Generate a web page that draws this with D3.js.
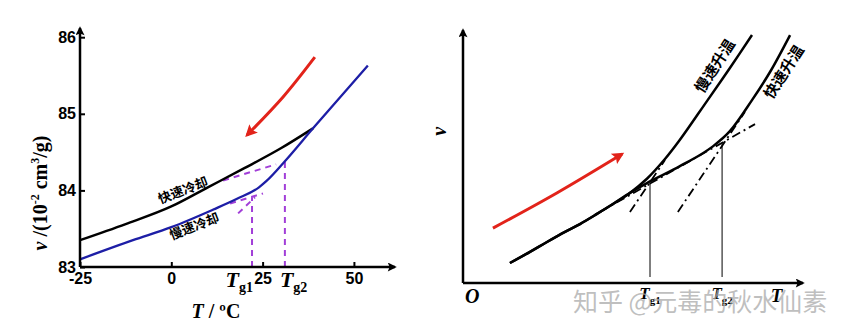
<!DOCTYPE html>
<html>
<head>
<meta charset="utf-8">
<script src="https://cdn.jsdelivr.net/npm/d3@7"></script>
<style>
body { margin: 0; background: #fff; }
svg { display: block; }
.tick text { font-family: Arial, "Liberation Sans", sans-serif; font-weight: bold; font-size: 16px; }
.serif { font-family: "Times New Roman", "Liberation Serif", serif; font-weight: bold; }
.cjk { font-family: "Noto Sans CJK SC", sans-serif; font-weight: bold; }
</style>
</head>
<body>
<svg id="viz" width="854" height="336"></svg>
<script>
// left panel: cooling curves, T (degC) vs v (1e-2 cm3/g)
var fastCool = [[-25, 83.35], [-12.5, 83.56], [0, 83.79], [10, 84.04], [20, 84.29], [30, 84.55], [38.8, 84.81]];
var slowCool = [[-25, 83.10], [-10.5, 83.35], [0, 83.52], [11.5, 83.75], [18, 83.89], [24, 84.04], [26, 84.12], [31.1, 84.38], [38.8, 84.81], [53.8, 85.63]];
var coolTicksX = [-25, 0, 25, 50];
var coolTicksY = [83, 84, 85, 86];
var coolTg = [{name: 'g1', T: 22.1, v: 83.91}, {name: 'g2', T: 31.1, v: 84.37}];
var coolDashes = [
    [[14.2, 84.13], [28.7, 84.34]],
    [[16.1, 83.83], [25.1, 83.96]],
    [[18.3, 83.70], [22.9, 83.91]]
];
var coolArrow = [[39.3, 85.74], [30.6, 85.22], [20.7, 84.72]];
var coolLabels = [{text: '快速冷却', T: 3.2, v: 84.0}, {text: '慢速冷却', T: 6.3, v: 83.53}];

// right panel: heating curves, arbitrary units
var heatCommon = [[1.38, 0.79], [1.97, 1.23], [2.47, 1.62], [3.00, 2.02], [3.44, 2.33], [3.94, 2.73], [4.41, 3.12], [4.91, 3.56]];
var slowHeat = [[5.41, 4.12], [5.94, 4.90], [6.38, 5.66], [7.18, 7.20], [7.85, 8.50], [8.50, 9.80]];
var fastHeat = [[5.41, 3.95], [5.94, 4.31], [6.38, 4.62], [6.97, 5.06], [7.35, 5.40], [7.85, 6.00], [8.50, 7.23], [9.03, 8.34], [9.62, 9.80]];
var heatTg = [{name: 'g1', x: 5.50, y: 3.95}, {name: 'g2', x: 7.62, y: 5.53}];
var heatDashDot = [
    [[4.03, 2.81], [8.59, 6.28]],
    [[4.91, 2.81], [5.94, 4.86]],
    [[6.32, 2.81], [8.29, 6.76]]
];
var heatArrow = [[0.88, 2.17], [2.76, 3.56], [4.68, 5.10]];
var heatLabels = [{text: '慢速升温', x: 7.41, y: 8.58}, {text: '快速升温', x: 9.44, y: 8.34}];

var svg = d3.select('#viz');

var defs = svg.append('defs');
function marker(id, color, w, h) {
    defs.append('marker')
        .attr('id', id)
        .attr('viewBox', '0 0 10 10')
        .attr('refX', 8).attr('refY', 5)
        .attr('markerUnits', 'userSpaceOnUse')
        .attr('markerWidth', w).attr('markerHeight', h)
        .attr('orient', 'auto')
        .append('path')
        .attr('d', 'M0,0 L10,5 L0,10 L2,5 Z')
        .attr('fill', color);
}
marker('axisArrow', '#000', 11, 9);
marker('redArrow', '#e2231a', 14, 12);

// ---------- left panel ----------
var xL = d3.scaleLinear().domain([-25, 61.25]).range([80, 395]);
var yL = d3.scaleLinear().domain([83, 86.12]).range([267, 28]);

var left = svg.append('g');

var lineL = d3.line()
    .x(function (d) { return xL(d[0]); })
    .y(function (d) { return yL(d[1]); })
    .curve(d3.curveMonotoneX);

// purple construction lines
left.selectAll('line.tg')
    .data(coolTg)
    .enter()
    .append('line')
    .attr('class', 'tg')
    .attr('x1', function (d) { return xL(d.T); })
    .attr('x2', function (d) { return xL(d.T); })
    .attr('y1', yL(83))
    .attr('y2', function (d) { return yL(d.v); })
    .attr('stroke', '#a23fd8')
    .attr('stroke-width', 2)
    .attr('stroke-dasharray', '6,5');

left.selectAll('path.ext')
    .data(coolDashes)
    .enter()
    .append('path')
    .attr('class', 'ext')
    .attr('d', d3.line().x(function (d) { return xL(d[0]); }).y(function (d) { return yL(d[1]); }))
    .attr('fill', 'none')
    .attr('stroke', '#a23fd8')
    .attr('stroke-width', 2)
    .attr('stroke-dasharray', '6,5');

left.append('path')
    .datum(fastCool)
    .attr('d', lineL)
    .attr('fill', 'none')
    .attr('stroke', '#000')
    .attr('stroke-width', 2.5);

left.append('path')
    .datum(slowCool)
    .attr('d', lineL)
    .attr('fill', 'none')
    .attr('stroke', '#1d1ea6')
    .attr('stroke-width', 2.3);

left.append('path')
    .datum(coolArrow)
    .attr('d', d3.line().x(function (d) { return xL(d[0]); }).y(function (d) { return yL(d[1]); }).curve(d3.curveNatural))
    .attr('fill', 'none')
    .attr('stroke', '#e2231a')
    .attr('stroke-width', 3)
    .attr('marker-end', 'url(#redArrow)');

// axes
var plain = function (d) { return String(d); };

var axL = left.append('g')
    .attr('transform', 'translate(0,' + yL(83) + ')')
    .call(d3.axisBottom(xL).tickValues(coolTicksX).tickFormat(plain).tickSizeInner(-5).tickSizeOuter(0).tickPadding(6));
axL.select('.domain').remove();
axL.selectAll('.tick line').attr('stroke-width', 2);

var ayL = left.append('g')
    .attr('transform', 'translate(' + xL(-25) + ',0)')
    .call(d3.axisLeft(yL).tickValues(coolTicksY).tickFormat(plain).tickSizeInner(-5).tickSizeOuter(0).tickPadding(4));
ayL.select('.domain').remove();
ayL.selectAll('.tick line').attr('stroke-width', 2);

left.append('line')
    .attr('x1', xL(-25)).attr('y1', yL(83))
    .attr('x2', xL(61.25)).attr('y2', yL(83))
    .attr('stroke', '#000').attr('stroke-width', 2.5)
    .attr('marker-end', 'url(#axisArrow)');
left.append('line')
    .attr('x1', xL(-25)).attr('y1', yL(83))
    .attr('x2', xL(-25)).attr('y2', yL(86.12))
    .attr('stroke', '#000').attr('stroke-width', 2.5)
    .attr('marker-end', 'url(#axisArrow)');

// Tg labels
var tgL = left.selectAll('text.tglabel')
    .data(coolTg)
    .enter()
    .append('text')
    .attr('class', 'tglabel serif')
    .attr('x', function (d, i) { return i === 0 ? xL(d.T) + 1 : xL(d.T) - 5; })
    .attr('y', yL(83) + 20)
    .attr('text-anchor', function (d, i) { return i === 0 ? 'end' : 'start'; })
    .style('font-size', '22px');
tgL.append('tspan').style('font-style', 'italic').text('T');
tgL.append('tspan').attr('dy', 5).style('font-size', '14px').text(function (d) { return d.name; });

left.selectAll('text.curvelabel')
    .data(coolLabels)
    .enter()
    .append('text')
    .attr('class', 'cjk')
    .attr('text-anchor', 'middle')
    .attr('transform', function (d) { return 'translate(' + xL(d.T) + ',' + yL(d.v) + ') rotate(-21)'; })
    .attr('dy', '0.35em')
    .style('font-size', '13px')
    .text(function (d) { return d.text; });

var xt = left.append('text')
    .attr('class', 'serif')
    .attr('x', 216).attr('y', 318)
    .attr('text-anchor', 'middle')
    .style('font-size', '20px');
xt.append('tspan').style('font-style', 'italic').text('T');
xt.append('tspan').text(' / ºC');

var yt = left.append('text')
    .attr('class', 'serif')
    .attr('transform', 'translate(47,193) rotate(-90)')
    .attr('text-anchor', 'middle')
    .style('font-size', '20px');
yt.append('tspan').style('font-style', 'italic').text('v');
yt.append('tspan').text(' /(10');
yt.append('tspan').attr('dy', -8).style('font-size', '12px').text('-2');
yt.append('tspan').attr('dy', 8).text(' cm');
yt.append('tspan').attr('dy', -8).style('font-size', '12px').text('3');
yt.append('tspan').attr('dy', 8).text('/g)');

// ---------- right panel ----------
var xR = d3.scaleLinear().domain([0, 10]).range([463, 803]);
var yR = d3.scaleLinear().domain([0, 10]).range([283, 30]);

var right = svg.append('g');

var lineR = d3.line()
    .x(function (d) { return xR(d[0]); })
    .y(function (d) { return yR(d[1]); })
    .curve(d3.curveCatmullRom.alpha(0.5));

right.selectAll('path.dd')
    .data(heatDashDot)
    .enter()
    .append('path')
    .attr('class', 'dd')
    .attr('d', d3.line().x(function (d) { return xR(d[0]); }).y(function (d) { return yR(d[1]); }))
    .attr('fill', 'none')
    .attr('stroke', '#000')
    .attr('stroke-width', 1.8)
    .attr('stroke-dasharray', '9,4,2,4');

right.selectAll('line.tg')
    .data(heatTg)
    .enter()
    .append('line')
    .attr('x1', function (d) { return xR(d.x); })
    .attr('x2', function (d) { return xR(d.x); })
    .attr('y1', yR(0) - 6)
    .attr('y2', function (d) { return yR(d.y); })
    .attr('stroke', '#000')
    .attr('stroke-width', 1);

right.append('path')
    .datum(heatCommon.concat(slowHeat))
    .attr('d', lineR)
    .attr('fill', 'none')
    .attr('stroke', '#000')
    .attr('stroke-width', 2.5);

right.append('path')
    .datum(heatCommon.concat(fastHeat))
    .attr('d', lineR)
    .attr('fill', 'none')
    .attr('stroke', '#000')
    .attr('stroke-width', 2.5);

right.append('path')
    .datum(heatArrow)
    .attr('d', d3.line().x(function (d) { return xR(d[0]); }).y(function (d) { return yR(d[1]); }).curve(d3.curveNatural))
    .attr('fill', 'none')
    .attr('stroke', '#e2231a')
    .attr('stroke-width', 3)
    .attr('marker-end', 'url(#redArrow)');

right.append('line')
    .attr('x1', xR(0)).attr('y1', yR(0))
    .attr('x2', xR(10)).attr('y2', yR(0))
    .attr('stroke', '#000').attr('stroke-width', 2.5)
    .attr('marker-end', 'url(#axisArrow)');
right.append('line')
    .attr('x1', xR(0)).attr('y1', yR(0))
    .attr('x2', xR(0)).attr('y2', yR(10))
    .attr('stroke', '#000').attr('stroke-width', 2.5)
    .attr('marker-end', 'url(#axisArrow)');

right.selectAll('text.curvelabel')
    .data(heatLabels)
    .enter()
    .append('text')
    .attr('class', 'cjk')
    .attr('text-anchor', 'middle')
    .attr('transform', function (d) { return 'translate(' + xR(d.x) + ',' + yR(d.y) + ') rotate(-57)'; })
    .attr('dy', '0.35em')
    .style('font-size', '15px')
    .text(function (d) { return d.text; });

var tgR = right.selectAll('text.tglabel')
    .data(heatTg)
    .enter()
    .append('text')
    .attr('class', 'serif')
    .attr('x', function (d) { return xR(d.x); })
    .attr('y', yR(0) + 16)
    .attr('text-anchor', 'middle')
    .style('font-size', '17px');
tgR.append('tspan').style('font-style', 'italic').text('T');
tgR.append('tspan').attr('dy', 5).style('font-size', '11px').text(function (d) { return d.name; });

right.append('text')
    .attr('class', 'serif')
    .attr('x', xR(0) + 2).attr('y', yR(0) + 20)
    .style('font-size', '20px').style('font-style', 'italic')
    .text('O');
right.append('text')
    .attr('class', 'serif')
    .attr('x', xR(9.05)).attr('y', yR(0) + 19)
    .style('font-size', '19px').style('font-style', 'italic')
    .text('T');
right.append('text')
    .attr('class', 'serif')
    .attr('transform', 'translate(' + (xR(0) - 17) + ',' + yR(6) + ') rotate(-90)')
    .attr('text-anchor', 'middle')
    .style('font-size', '20px').style('font-style', 'italic')
    .text('v');

// watermark
svg.append('text')
    .attr('x', 573).attr('y', 311)
    .style('font-family', '"Noto Sans CJK SC", sans-serif')
    .style('font-size', '25px')
    .attr('fill', '#aaaaaa')
    .attr('fill-opacity', 0.75)
    .text('知乎 @元毒的秋水仙素');
</script>
</body>
</html>
